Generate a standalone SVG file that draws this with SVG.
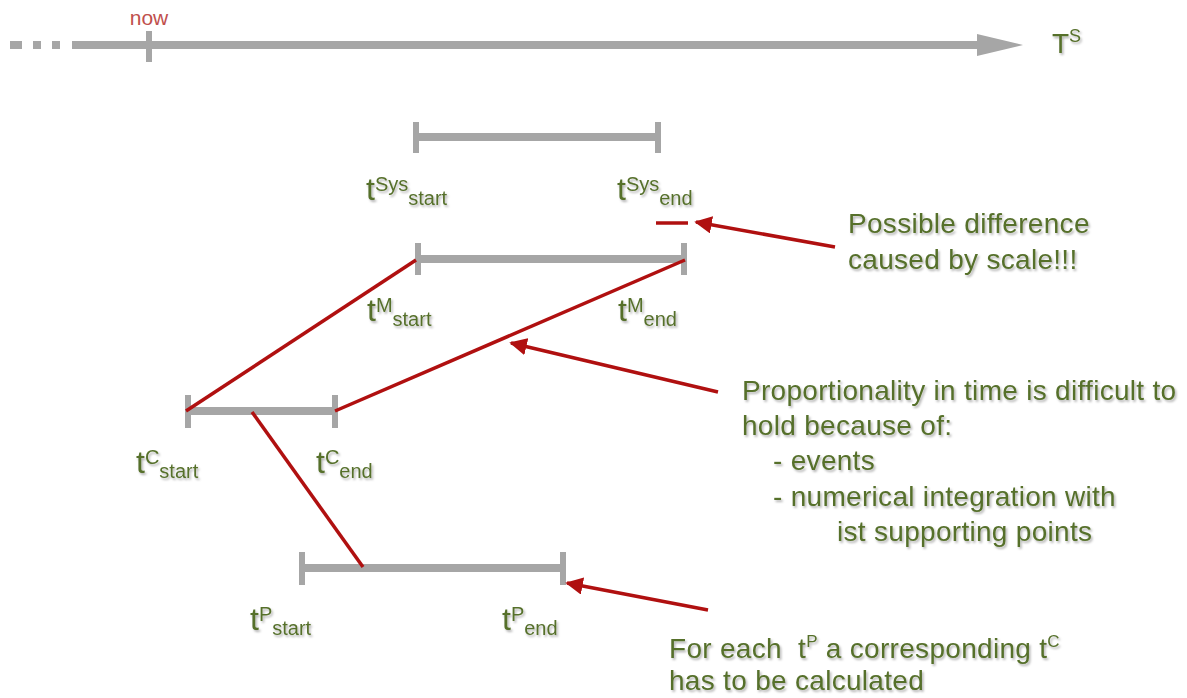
<svg xmlns="http://www.w3.org/2000/svg" width="1187" height="698" viewBox="0 0 1187 698">
<defs>
<style>
.bar{stroke:#a6a6a6;stroke-width:8;fill:none}
.tick{stroke:#a6a6a6;stroke-width:6;fill:none}
.red{stroke:#b01010;stroke-width:3.5;fill:none}
.txt{font-family:"Liberation Sans",Arial,sans-serif;fill:#56702c;filter:url(#sh)}
.big{font-size:28px;letter-spacing:0.3px}
.t{font-size:32px}
.s{font-size:20px}
</style>
<filter id="sh" x="-10%" y="-20%" width="130%" height="150%">
<feDropShadow dx="1.5" dy="2" stdDeviation="1.2" flood-color="#000" flood-opacity="0.3"/>
</filter>
<marker id="ah" viewBox="0 0 10 10" refX="9" refY="5" markerWidth="5" markerHeight="5" orient="auto" markerUnits="strokeWidth">
<path d="M0,0 L10,5 L0,10 Z" fill="#b01010"/>
</marker>
</defs>
<rect width="1187" height="698" fill="#fff"/>
<g id="axis">
<line x1="10" y1="45" x2="22" y2="45" class="bar"/>
<line x1="33" y1="45" x2="41" y2="45" class="bar"/>
<line x1="52" y1="45" x2="60" y2="45" class="bar"/>
<line x1="72" y1="45" x2="980" y2="45" class="bar"/>
<path d="M977,34 L1023,45 L977,56 Z" fill="#a6a6a6"/>
<line x1="149" y1="31" x2="149" y2="62" class="tick"/>
<text x="149" y="25" text-anchor="middle" font-family="Liberation Sans,Arial,sans-serif" font-size="21" fill="#c0504d">now</text>
<text class="txt" x="1052" y="53" font-size="28">T<tspan font-size="18" dy="-11">S</tspan></text>
</g>
<g id="sys">
<line x1="416" y1="137" x2="658" y2="137" class="bar"/>
<line x1="416" y1="122" x2="416" y2="153" class="tick"/>
<line x1="658" y1="122" x2="658" y2="153" class="tick"/>
<text class="txt" x="366" y="200"><tspan class="t">t</tspan><tspan class="s" dy="-9">Sys</tspan><tspan class="s" dy="14">start</tspan></text>
<text class="txt" x="617" y="200"><tspan class="t">t</tspan><tspan class="s" dy="-9">Sys</tspan><tspan class="s" dy="14">end</tspan></text>
</g>
<g id="model">
<line x1="418" y1="259" x2="684" y2="259" class="bar"/>
<line x1="418" y1="243" x2="418" y2="275" class="tick"/>
<line x1="684" y1="243" x2="684" y2="275" class="tick"/>
<text class="txt" x="367" y="321"><tspan class="t">t</tspan><tspan class="s" dy="-9">M</tspan><tspan class="s" dy="14">start</tspan></text>
<text class="txt" x="618" y="321"><tspan class="t">t</tspan><tspan class="s" dy="-9">M</tspan><tspan class="s" dy="14">end</tspan></text>
</g>
<g id="clock">
<line x1="188" y1="411" x2="335" y2="411" class="bar"/>
<line x1="188" y1="395" x2="188" y2="428" class="tick"/>
<line x1="335" y1="395" x2="335" y2="428" class="tick"/>
<text class="txt" x="136" y="473"><tspan class="t">t</tspan><tspan class="s" dy="-9">C</tspan><tspan class="s" dy="14">start</tspan></text>
<text class="txt" x="316" y="473"><tspan class="t">t</tspan><tspan class="s" dy="-9">C</tspan><tspan class="s" dy="14">end</tspan></text>
</g>
<g id="phys">
<line x1="302" y1="568" x2="563" y2="568" class="bar"/>
<line x1="302" y1="552" x2="302" y2="585" class="tick"/>
<line x1="563" y1="552" x2="563" y2="585" class="tick"/>
<text class="txt" x="250" y="630"><tspan class="t">t</tspan><tspan class="s" dy="-9">P</tspan><tspan class="s" dy="14">start</tspan></text>
<text class="txt" x="502" y="630"><tspan class="t">t</tspan><tspan class="s" dy="-9">P</tspan><tspan class="s" dy="14">end</tspan></text>
</g>
<g id="notes">
<text class="txt big" x="848" y="233">Possible difference</text>
<text class="txt big" x="848" y="269">caused by scale!!!</text>
<text class="txt big" x="742" y="400">Proportionality in time is difficult to</text>
<text class="txt big" x="742" y="435">hold because of:</text>
<text class="txt big" x="773" y="470">- events</text>
<text class="txt big" x="773" y="506">- numerical integration with</text>
<text class="txt big" x="837" y="541">ist supporting points</text>
<text class="txt big" x="669" y="658" xml:space="preserve">For each  t<tspan font-size="17" dy="-11">P</tspan><tspan dy="11"> a corresponding t</tspan><tspan font-size="17" dy="-11">C</tspan></text>
<text class="txt big" x="669" y="690">has to be calculated</text>
</g>
<g id="connectors">
<line x1="656" y1="223" x2="688" y2="223" class="red"/>
<line x1="186" y1="411" x2="416" y2="260" class="red"/>
<line x1="335" y1="411" x2="685" y2="260" class="red"/>
<line x1="252" y1="412" x2="363" y2="567" class="red"/>
<line x1="835" y1="247" x2="696" y2="222" class="red" marker-end="url(#ah)"/>
<line x1="718" y1="392" x2="511" y2="343" class="red" marker-end="url(#ah)"/>
<line x1="708" y1="610" x2="567" y2="583" class="red" marker-end="url(#ah)"/>
</g>
</svg>
